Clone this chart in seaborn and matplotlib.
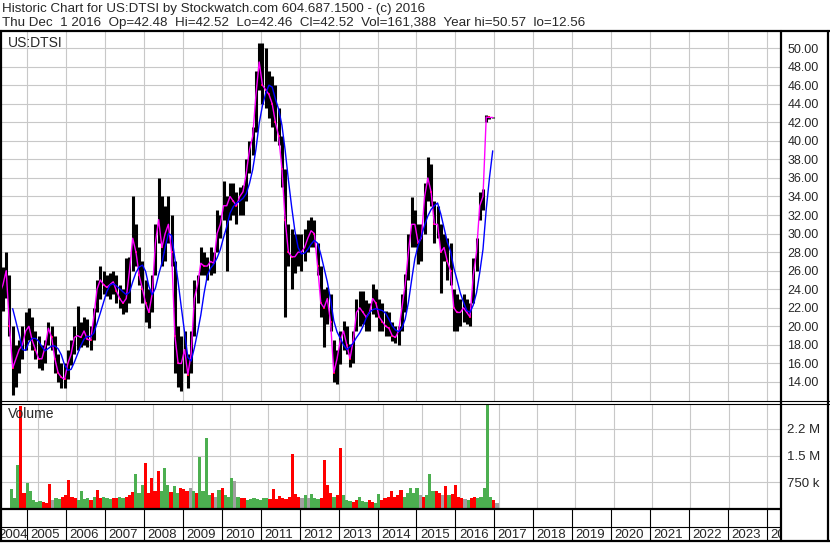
import numpy as np
import pandas as pd
import matplotlib
matplotlib.use('Agg')
import matplotlib.pyplot as plt
from matplotlib.lines import Line2D
import seaborn as sns

# monthly bars, Apr 2004 .. Dec 2016
months = pd.date_range('2004-04-01', '2016-12-01', freq='MS')

high = [25, 26.4, 28, 25.5, 20, 18, 18.5, 20, 21.5, 22, 21, 19.5, 19, 18, 18.5, 20.5, 20, 19, 17, 16,
        16, 17.5, 18.5, 20, 22.2, 20.5, 21, 20.8, 20, 22, 25, 26.5, 26, 25.5, 25.8, 26, 25.5, 24.5, 24, 27.4,
        27.5, 34, 31, 28.5, 27, 25, 24, 25.5, 31, 36, 34, 33, 34, 32, 27, 20, 19, 19.5, 17, 19.5,
        25, 25.5, 28.5, 28, 27.5, 28.5, 28, 32.5, 32, 35.7, 34, 35.5, 35.5, 34.5, 35, 35.2, 38, 40, 41.5, 47.5,
        50.5, 50.57, 50, 47.5, 47, 46, 43.5, 40.5, 37, 31, 30.5, 30, 30, 30, 30.5, 31.5, 31.8, 31.5, 29, 26.5,
        24, 24.2, 23.5, 18.5, 17.5, 19.5, 20.6, 20, 18.1, 19.5, 23, 23.8, 23.8, 22.8, 22.5, 24.6, 24, 23, 22.5, 21.7,
        21.5, 20.5, 20, 20, 23.5, 25.6, 30, 33.9, 32.5, 31, 31, 35.5, 38.3, 37.5, 33.5, 33, 31, 30, 29.5, 29,
        24, 23.5, 23, 23.5, 23, 22.5, 27.4, 29.5, 34.5, 34.8, 42.8, 42.6, 42.52]
low = [21.5, 21.7, 23.1, 19, 12.6, 13.5, 15, 16.5, 17.5, 18.5, 17.5, 16.5, 15.5, 15.3, 16, 18, 17.5, 15, 14, 13.3,
       13.3, 14.3, 15.8, 17, 17.5, 17.8, 18, 17.8, 17.5, 18.5, 21.5, 23, 23.5, 23.3, 23, 23.5, 22.5, 22, 21.3, 21.5,
       22.5, 26, 26.5, 24.5, 22.5, 20.5, 19.8, 21.5, 25.5, 29, 26.5, 27, 29, 26.5, 15, 13.5, 13, 15, 13.3, 15,
       19, 22.5, 25.5, 25.5, 25, 25.5, 25.8, 28, 29.5, 31.5, 26, 31.5, 32, 31, 32, 32, 33.5, 36.5, 38.5, 41,
       45.5, 44, 43.5, 42.5, 41.5, 40, 39.5, 35, 21, 26.5, 24, 25.8, 26.5, 26, 27, 28, 28.5, 28.5, 25.5, 21,
       17.8, 20.2, 19.5, 14, 13.8, 15.9, 17.5, 17, 15.6, 16, 19.5, 20, 20.2, 19.5, 19.5, 21.3, 21, 19.5, 19.5, 19,
       19, 18.4, 18.2, 18, 19.5, 21.5, 25, 28.5, 28.5, 26.7, 27, 30, 33.5, 33, 29, 29.5, 23.6, 27, 25, 24.5,
       19.5, 19.5, 20, 20.5, 20.2, 20, 22.5, 26, 31.5, 32.5, 42, 42.3, 42.46]
close = [23.5, 24.5, 26, 20, 15.5, 16.5, 17.5, 18, 19.5, 20, 18.5, 17.5, 16.5, 16.5, 17.8, 19.8, 18.8, 16.5, 15, 14.5,
         14.3, 16, 17, 18.8, 19, 18.8, 19.5, 18.6, 18.5, 21, 24, 25, 24.5, 24.2, 24.5, 24.8, 23.8, 23, 22.5, 23,
         26, 29.5, 28, 25.5, 24, 22.5, 21.5, 23.5, 29, 31.5, 28.5, 30, 31, 28, 19, 16, 16, 17.5, 14.8, 17,
         23, 24.5, 26.8, 26.5, 26.5, 27, 26.8, 30, 31, 33, 33, 34, 33.5, 33, 34, 34.5, 36.5, 39, 40.5, 45,
         48.5, 46, 45.5, 45, 44, 42, 40.5, 37, 31.5, 28, 27.5, 27.5, 28, 28, 28.5, 29.5, 30.3, 30, 26.5, 22.5,
         22, 23, 20.5, 15, 16.5, 18.5, 19.5, 18, 16.5, 18.5, 21.5, 22, 21.5, 21, 21.5, 23, 22.5, 21, 20.5, 20,
         19.8, 19, 18.8, 19.5, 22, 24.5, 28, 31, 31, 29, 29.5, 34, 36, 34.5, 31, 31, 28, 28.5, 27, 26,
         22, 21.5, 21.5, 22, 21.5, 21, 25.5, 28, 33, 34, 42.55, 42.52, 42.52]
volume_k = [550, 300, 1220, 2900, 450, 720, 510, 250, 200, 220, 200, 180, 700, 250, 300, 280, 350, 400, 810, 350,
            300, 250, 510, 280, 300, 260, 350, 530, 300, 350, 300, 280, 320, 300, 350, 320, 350, 400, 480, 970,
            450, 670, 1290, 450, 880, 500, 1060, 500, 1160, 670, 480, 650, 450, 580, 550, 500, 600, 500, 450, 1470,
            500, 1980, 400, 440, 350, 530, 580, 400, 350, 880, 780, 350, 300, 300, 250, 280, 300, 280, 250, 300,
            300, 280, 560, 280, 360, 300, 280, 350, 1530, 420, 350, 300, 390, 300, 420, 300, 280, 300, 1360, 670,
            450, 350, 400, 1700, 400, 250, 220, 200, 250, 330, 220, 200, 250, 200, 180, 420, 250, 300, 350, 500,
            350, 400, 530, 350, 440, 600, 450, 580, 400, 350, 400, 990, 500, 510, 450, 400, 640, 400, 420, 670,
            350, 300, 280, 250, 300, 330, 300, 350, 600, 2920, 330, 250, 170]

price_ticks = list(range(14, 51, 2))
vol_ticks = [750000, 1500000, 2250000]
vol_labels = ['750 k', '1.5 M', '2.2 M']
years = list(range(2004, 2025))

header1 = 'Historic Chart for US:DTSI by Stockwatch.com 604.687.1500 - (c) 2016'
header2 = ('Thu Dec  1 2016  Op=42.48  Hi=42.52  Lo=42.46  Cl=42.52  '
           'Vol=161,388  Year hi=50.57  lo=12.56')

# pixel layout of the reference
W, H = 830, 543
PX_YEAR = 38.92
X_LEFT = 2004.2986
X_RIGHT = X_LEFT + 781 / PX_YEAR
GRID = '#c8c8c8'
FS = 9.5

def fx(px):
    return px / W

def fy(py):
    return 1 - py / H

sns.set_style('white')
plt.rcParams['font.family'] = ['Liberation Sans', 'DejaVu Sans']

df = pd.DataFrame({'date': months, 'high': high, 'low': low, 'close': close,
                   'volume': np.array(volume_k) * 1000.0})
df['t'] = df['date'].dt.year + (df['date'].dt.month - 1) / 12 + 1 / 24
df['slow'] = df['close'].rolling(5).mean()
chg = df['close'].diff().fillna(1)
df['vcol'] = np.where(chg > 0, '#4caf50', np.where(chg < 0, '#ff0000', '#a0a0a0'))

fig = plt.figure(figsize=(W / 100, H / 100), dpi=100)
ax_p = fig.add_axes([0, fy(401), fx(781), (401 - 31) / H])
ax_v = fig.add_axes([0, fy(509), fx(781), (509 - 404) / H])
ax_d = fig.add_axes([0, fy(541), fx(781), (541 - 509) / H])

for ax in (ax_p, ax_v, ax_d):
    ax.set_xlim(X_LEFT, X_RIGHT)
    for s in ax.spines.values():
        s.set_visible(False)

# --- price panel
ax_p.set_ylim(11.95, 51.84)
ax_p.set_xticks(years)
ax_p.set_yticks(price_ticks)
ax_p.set_yticklabels([f'{v:.2f}' for v in price_ticks])
ax_p.yaxis.tick_right()
ax_p.tick_params(axis='y', length=0, pad=4.5, labelsize=FS - 0.5)
ax_p.tick_params(axis='x', length=0, labelbottom=False)
ax_p.grid(True, color=GRID, lw=0.8)
ax_p.set_axisbelow(True)

ax_p.vlines(df['t'], df['low'], df['high'], color='black', lw=2.2)
down = df[chg < 0]
ax_p.plot(down['t'], down['close'], ls='none', marker='s', ms=1.6, color='red', mew=0)
sns.lineplot(data=df, x='t', y='close', ax=ax_p, color='#ff00ff', lw=1.0, estimator=None)
sns.lineplot(data=df, x='t', y='slow', ax=ax_p, color='#0000ff', lw=1.0, estimator=None)
ax_p.set_xlabel('')
ax_p.set_ylabel('')
ax_p.set_xlim(X_LEFT, X_RIGHT)
ax_p.text(fx(8) / fx(781), 1 - 12 / 370, 'US:DTSI', transform=ax_p.transAxes,
          va='center', ha='left', fontsize=FS + 0.5)

# --- volume panel
ax_v.set_ylim(0, 2.944e6)
ax_v.set_xticks(years)
ax_v.set_yticks(vol_ticks)
ax_v.set_yticklabels(vol_labels)
ax_v.yaxis.tick_right()
ax_v.tick_params(axis='y', length=0, pad=4.5, labelsize=FS)
ax_v.tick_params(axis='x', length=0, labelbottom=False)
ax_v.grid(True, color=GRID, lw=0.8)
ax_v.set_axisbelow(True)
ax_v.bar(df['t'], df['volume'], width=1 / 12, color=df['vcol'], lw=0)
ax_v.text(fx(8) / fx(781), 1 - 10 / 105, 'Volume', transform=ax_v.transAxes,
          va='center', ha='left', fontsize=FS + 0.5)

# --- date strip
ax_d.set_ylim(0, 1)
ax_d.set_xticks([])
ax_d.set_yticks([])
for y in years:
    ax_d.axvline(y, color='black', lw=0.8)
    pos = max(y + 3.4 / PX_YEAR, X_LEFT - 2 / PX_YEAR)
    ax_d.text(pos, 0.2, str(y), va='center', ha='left', fontsize=FS, clip_on=True)
ax_d.axhline(1 - 17.5 / 32, color='black', lw=0.8)

# --- frame lines (pixel coordinates)
def hline(py, x0, x1, lw):
    fig.add_artist(Line2D([fx(x0), fx(x1)], [fy(py), fy(py)], color='black', lw=lw))

def vline(px, y0, y1, lw):
    fig.add_artist(Line2D([fx(px), fx(px)], [fy(y0), fy(y1)], color='black', lw=lw))

hline(31, 0, 830, 1.6)
hline(541, 0, 830, 1.6)
hline(401, 0, 830, 0.8)
hline(404, 0, 830, 0.8)
hline(509, 0, 781, 1.6)
vline(1, 31, 541, 1.6)
vline(781, 31, 541, 1.6)
vline(828, 31, 541, 1.6)

fig.text(fx(2), fy(9), header1, va='center', ha='left', fontsize=9.6)
fig.text(fx(2), fy(23), header2, va='center', ha='left', fontsize=9.6)

fig.savefig('out.png', dpi=100)
